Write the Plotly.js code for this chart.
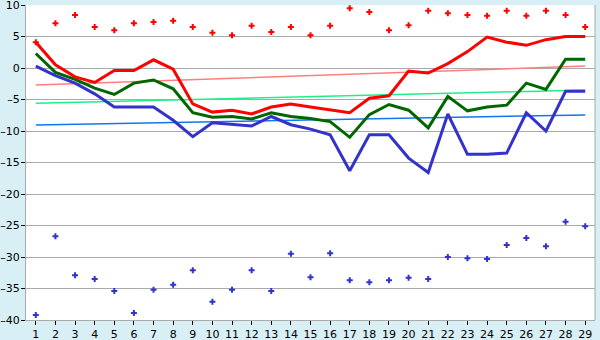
<!DOCTYPE html>
<html><head><meta charset="utf-8">
<script src="https://cdn.plot.ly/plotly-3.0.1.min.js"></script>
<style>html,body{margin:0;padding:0;background:#d9eff6;}#chart{width:600px;height:340px;}</style>
</head><body><div id="chart"></div>
<script>
const days = [1,2,3,4,5,6,7,8,9,10,11,12,13,14,15,16,17,18,19,20,21,22,23,24,25,26,27,28,29];
const redLine = [4.1,0.5,-1.4,-2.3,-0.4,-0.4,1.3,-0.2,-5.7,-7.0,-6.7,-7.3,-6.2,-5.7,-6.2,-6.7,-7.1,-4.8,-4.4,-0.5,-0.8,0.7,2.6,4.9,4.1,3.6,4.5,5.0,5.0];
const greenLine = [2.3,-0.7,-1.8,-3.2,-4.2,-2.4,-1.9,-3.3,-7.1,-7.8,-7.7,-8.1,-7.1,-7.7,-8.0,-8.5,-11.0,-7.4,-5.8,-6.7,-9.5,-4.5,-6.8,-6.2,-5.9,-2.4,-3.4,1.4,1.4];
const blueLine = [0.3,-1.2,-2.4,-4.1,-6.2,-6.2,-6.2,-8.3,-10.9,-8.7,-9.0,-9.2,-7.7,-9.0,-9.7,-10.6,-16.3,-10.6,-10.6,-14.3,-16.6,-7.3,-13.7,-13.7,-13.5,-7.1,-10.0,-3.7,-3.7];
const redMarks = [4.1,7.1,8.4,6.5,6.0,7.1,7.3,7.5,6.5,5.6,5.2,6.7,5.7,6.5,5.2,6.7,9.5,8.9,6.0,6.8,9.1,8.7,8.4,8.3,9.1,8.3,9.1,8.4,6.5];
const blueMarks = [-39.2,-26.7,-32.9,-33.5,-35.4,-38.9,-35.2,-34.4,-32.1,-37.1,-35.2,-32.1,-35.4,-29.5,-33.2,-29.4,-33.7,-34.0,-33.7,-33.3,-33.5,-30.0,-30.2,-30.3,-28.1,-27.0,-28.3,-24.4,-25.1];
const trendX = [1,29];
const redTrend = [-2.7,0.3];
const greenTrend = [-5.6,-3.5];
const blueTrend = [-9.05,-7.45];
const yTicks = [10,5,0,-5,-10,-15,-20,-25,-30,-35,-40];

const traces = [
  {x:trendX,y:redTrend,mode:'lines',line:{color:'#ff7f7f',width:1.5}},
  {x:trendX,y:greenTrend,mode:'lines',line:{color:'#22ee88',width:1.5}},
  {x:trendX,y:blueTrend,mode:'lines',line:{color:'#1177ee',width:1.5}},
  {x:days,y:blueLine,mode:'lines',line:{color:'#3333cc',width:3}},
  {x:days,y:greenLine,mode:'lines',line:{color:'#006600',width:3}},
  {x:days,y:redLine,mode:'lines',line:{color:'#ff0000',width:3}},
  {x:days,y:redMarks,mode:'markers',marker:{symbol:'cross',size:5,color:'#ff0000'}},
  {x:days,y:blueMarks,mode:'markers',marker:{symbol:'cross',size:5,color:'#3333cc'}}
];
const layout = {
  width:600,height:340,
  margin:{l:26,r:5,t:5,b:20},
  paper_bgcolor:'#d9eff6',plot_bgcolor:'#ffffff',
  showlegend:false,
  font:{family:'DejaVu Sans, sans-serif',size:11,color:'#000'},
  xaxis:{range:[0.5,29.5],tickvals:days,ticktext:days.map(String),ticks:'outside',ticklen:4,tickcolor:'#000',
    showgrid:false,zeroline:false,showline:true,linecolor:'#aaaaaa',linewidth:1,mirror:false,fixedrange:true,
    tickfont:{size:11},ticklabeloverflow:'allow'},
  yaxis:{range:[-40,10],tickvals:yTicks,ticktext:yTicks.map(v=>v<0?'\u2013'+Math.abs(v):String(v)),ticks:'outside',ticklen:4,tickcolor:'#000',
    showgrid:true,gridcolor:'#aaaaaa',gridwidth:1,zeroline:false,showline:true,linecolor:'#aaaaaa',linewidth:1,fixedrange:true,
    tickfont:{size:11},ticklabeloverflow:'allow',ticklabelstandoff:-1},
  shapes:[{type:'line',xref:'paper',yref:'paper',x0:1,x1:1,y0:0,y1:1,line:{color:'#aaaaaa',width:1}}]
};
Plotly.newPlot('chart',traces,layout,{displayModeBar:false,staticPlot:true});
</script></body></html>
